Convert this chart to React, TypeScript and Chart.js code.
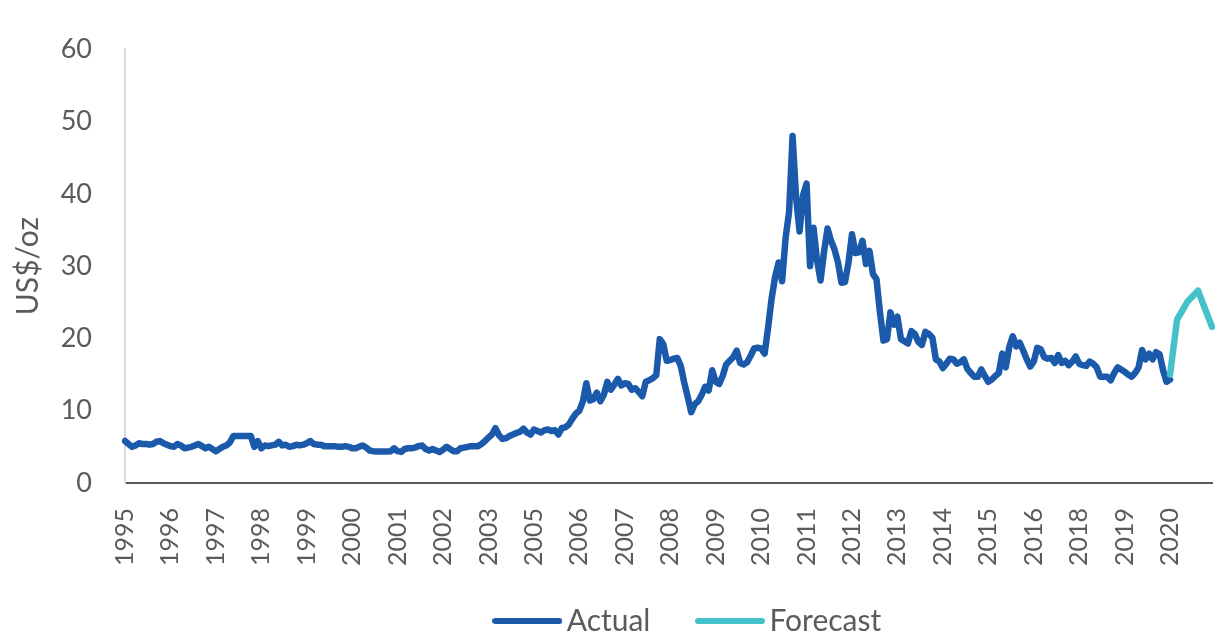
import React, { useEffect, useRef } from "react";
import { Chart, registerables } from "chart.js";

Chart.register(...registerables);

// ---- Data ----
const START_YEAR = 1995;
const START_MONTH = 4; // April
const MONTH_COUNT = 312; // Apr 1995 .. Mar 2021
const MONTH_NAMES = ["Jan", "Feb", "Mar", "Apr", "May", "Jun", "Jul", "Aug", "Sep", "Oct", "Nov", "Dec"];

const categories: string[] = [];
for (let k = 0; k < MONTH_COUNT; k++) {
  const m = (START_MONTH - 1 + k) % 12;
  const y = START_YEAR + Math.floor((START_MONTH - 1 + k) / 12);
  categories.push(`${MONTH_NAMES[m]} ${y}`);
}

// Monthly silver price, US$/oz, Apr 1995 .. Mar 2020
const actualValues: number[] = [
  5.8, 5.4, 5.0, 5.2, 5.5, 5.4, 5.4, 5.3, 5.4,
  5.7, 5.8, 5.5, 5.3, 5.1, 5.0, 5.4, 5.2, 4.8, 4.9, 5.0, 5.2,
  5.4, 5.1, 4.8, 5.0, 4.7, 4.4, 4.7, 5.0, 5.2, 5.6, 6.5, 6.5,
  6.5, 6.5, 6.5, 6.5, 5.0, 5.8, 4.8, 5.2, 5.1, 5.2, 5.3, 5.7,
  5.2, 5.3, 5.0, 5.1, 5.3, 5.2, 5.3, 5.5, 5.8, 5.4, 5.3, 5.3,
  5.1, 5.1, 5.1, 5.1, 5.0, 5.0, 5.1, 5.0, 4.8, 4.8, 5.0, 5.2,
  4.9, 4.5, 4.4, 4.35, 4.35, 4.35, 4.35, 4.4, 4.8, 4.4, 4.3, 4.7,
  4.8, 4.8, 4.9, 5.1, 5.2, 4.7, 4.5, 4.7, 4.5, 4.3, 4.6, 5.0,
  4.7, 4.4, 4.4, 4.8, 4.9, 5.0, 5.1, 5.1, 5.1, 5.4, 5.8, 6.3,
  6.7, 7.6, 6.6, 6.1, 6.2, 6.5, 6.7, 6.9, 7.1, 7.5, 7.0, 6.7,
  7.4, 7.2, 7.0, 7.3, 7.4, 7.2, 7.3, 6.7, 7.6, 7.7, 8.1, 8.9,
  9.6, 10.0, 11.3, 13.8, 11.4, 11.6, 12.5, 11.3, 12.2, 14.0, 12.9, 13.6,
  14.4, 13.5, 13.8, 13.7, 12.9, 13.1, 12.6, 12.0, 14.0, 14.2, 14.5, 14.9,
  19.9, 19.2, 16.9, 17.0, 17.2, 17.3, 16.2, 13.9, 11.9, 9.8, 10.9, 11.3,
  12.2, 13.3, 12.8, 15.6, 14.0, 13.7, 14.8, 16.4, 16.9, 17.4, 18.3, 16.6,
  16.4, 16.7, 17.6, 18.6, 18.7, 18.6, 17.9, 21.5, 25.5, 28.5, 30.5, 27.9,
  33.9, 37.5, 48.0, 39.5, 34.8, 39.8, 41.4, 30.0, 35.3, 30.8, 28.0, 32.0,
  35.2, 33.5, 32.3, 30.5, 27.7, 27.8, 30.5, 34.4, 31.8, 31.9, 33.5, 30.3,
  32.1, 28.9, 28.2, 23.6, 19.7, 19.9, 23.6, 21.9, 23.0, 19.9, 19.6, 19.3,
  21.0, 20.6, 19.5, 19.1, 20.9, 20.6, 20.1, 17.1, 16.8, 15.9, 16.5, 17.2,
  17.1, 16.5, 16.7, 17.1, 15.8, 15.2, 14.7, 14.7, 15.7, 14.8, 14.0, 14.3,
  14.8, 15.2, 17.9, 16.0, 18.8, 20.3, 18.9, 19.4, 18.3, 17.1, 16.1, 16.8,
  18.7, 18.5, 17.4, 17.2, 17.3, 16.6, 17.7, 16.6, 16.9, 16.3, 16.8, 17.5,
  16.5, 16.3, 16.2, 16.8, 16.5, 16.0, 14.7, 14.7, 14.7, 14.2, 15.2, 16.0,
  15.7, 15.4, 15.0, 14.7, 15.2, 16.0, 18.4, 17.1, 17.9, 17.1, 18.1, 17.8,
  15.6, 14.0, 14.3,
];

const forecastMonths: string[] = ["Mar 2020", "May 2020", "Aug 2020", "Nov 2020", "Mar 2021"];
const forecastValues: number[] = [15.0, 22.6, 25.1, 26.6, 21.6];

const Y_MIN = 0;
const Y_MAX = 60;
const Y_STEP = 10;
const X_LABEL_EVERY = 13; // one year label every 13 months

const BLUE = "#1b5aaa";
const TEAL = "#45c2c9";
const TEXT = "#595c5e";
const FONT = "Lato, 'Open Sans', sans-serif";

const LEGEND_SHIFT_X = 86;
const LEGEND_SHIFT_Y = -17;

function legendSwatch(color: string): HTMLCanvasElement {
  const c = document.createElement("canvas");
  c.width = 70;
  c.height = 10;
  const g = c.getContext("2d")!;
  g.strokeStyle = color;
  g.lineWidth = 6;
  g.lineCap = "round";
  g.beginPath();
  g.moveTo(3, 5);
  g.lineTo(67, 5);
  g.stroke();
  return c;
}

const legendShift = {
  id: "legendShift",
  afterLayout(chart: any) {
    const lg = chart.legend;
    if (lg) {
      lg.left += LEGEND_SHIFT_X;
      lg.right += LEGEND_SHIFT_X;
      lg.top += LEGEND_SHIFT_Y;
      lg.bottom += LEGEND_SHIFT_Y;
    }
  },
};

export default function App() {
  const ref = useRef<HTMLCanvasElement>(null);

  useEffect(() => {
    if (!ref.current) return;
    Chart.defaults.font.family = FONT;
    const chart = new Chart(ref.current, {
      type: "line",
      data: {
        labels: categories,
        datasets: [
          {
            label: "Actual",
            data: actualValues,
            borderColor: BLUE,
            backgroundColor: BLUE,
            borderWidth: 6.5,
            borderCapStyle: "round",
            borderJoinStyle: "round",
            pointRadius: 0,
            pointHoverRadius: 0,
            pointStyle: legendSwatch(BLUE) as any,
            tension: 0,
            order: 1,
          },
          {
            label: "Forecast",
            data: forecastMonths.map((m, i) => ({ x: m, y: forecastValues[i] })) as any,
            borderColor: TEAL,
            backgroundColor: TEAL,
            borderWidth: 6.5,
            borderCapStyle: "round",
            borderJoinStyle: "round",
            pointRadius: 0,
            pointHoverRadius: 0,
            pointStyle: legendSwatch(TEAL) as any,
            tension: 0,
            order: 0,
          },
        ],
      },
      options: {
        responsive: false,
        animation: false,
        layout: { padding: { top: 27, right: 5, left: 0, bottom: -28 } },
        plugins: {
          tooltip: { enabled: false },
          legend: {
            position: "bottom",
            labels: {
              usePointStyle: true,
              pointStyleWidth: 49,
              padding: 55,
              color: TEXT,
              font: { size: 30, family: FONT },
              sort: (a: any, b: any) => a.datasetIndex - b.datasetIndex,
            },
          },
        },
        scales: {
          x: {
            type: "category",
            grid: { display: false, drawTicks: false },
            border: { display: true, color: "#595959", width: 2 },
            ticks: {
              autoSkip: false,
              minRotation: 90,
              maxRotation: 90,
              padding: 25,
              color: TEXT,
              font: { size: 25, family: FONT },
              callback: (_v: any, index: number) =>
                index % X_LABEL_EVERY === 0 ? categories[index].slice(-4) : "",
            },
            afterFit: (s: any) => {
              s.height = 85;
              s.paddingLeft = 0;
              s.paddingRight = 0;
            },
          },
          y: {
            min: Y_MIN,
            max: Y_MAX,
            grid: { display: false, drawTicks: false },
            border: { display: true, color: "#d9dcdc", width: 2 },
            ticks: {
              stepSize: Y_STEP,
              padding: 33,
              color: TEXT,
              font: { size: 27, family: FONT },
            },
            title: {
              display: true,
              text: "US$/oz",
              color: TEXT,
              font: { size: 30, family: FONT },
              padding: { top: 10, bottom: 0 },
            },
            afterFit: (s: any) => {
              s.width = 125;
            },
          },
        },
      },
      plugins: [legendShift],
    });
    return () => chart.destroy();
  }, []);

  return (
    <div style={{ position: "absolute", left: 0, top: 0, width: 1217, height: 635, background: "#fff" }}>
      <canvas ref={ref} width={1217} height={635} style={{ display: "block" }} />
    </div>
  );
}
